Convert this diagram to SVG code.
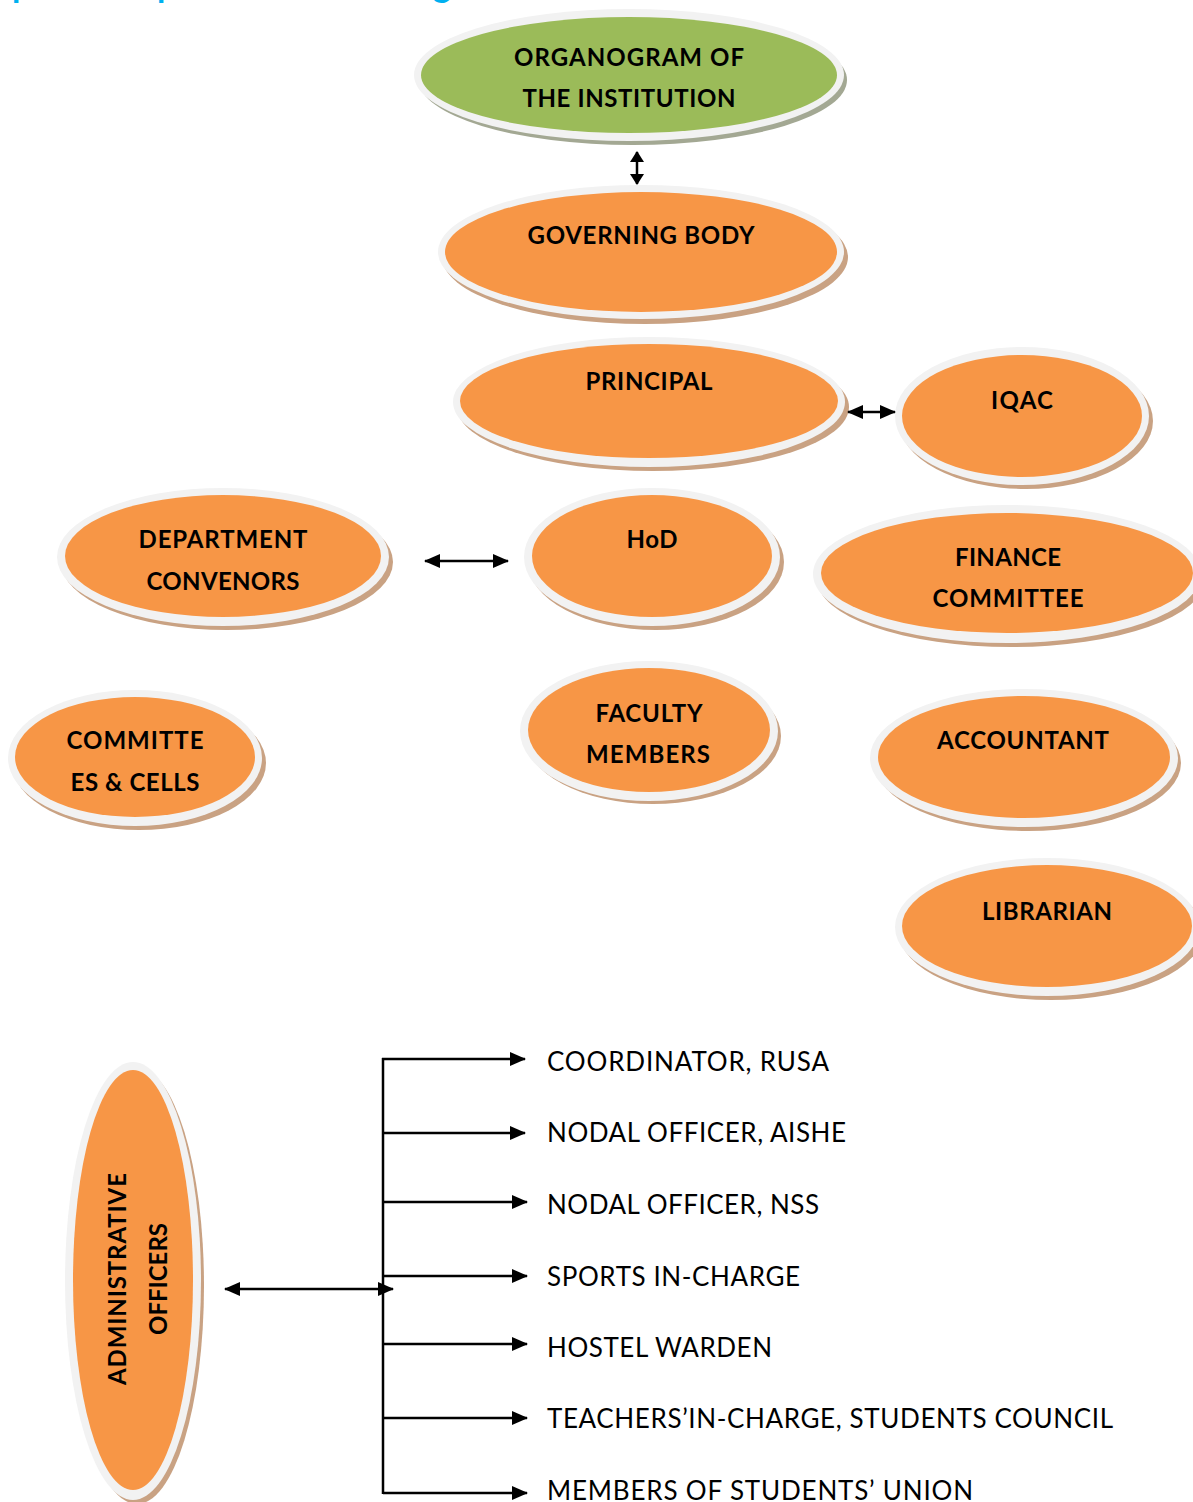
<svg xmlns="http://www.w3.org/2000/svg" width="1193" height="1502" viewBox="0 0 1193 1502">
<style>
.ring{fill:#f2f2f2}
.sh{fill:#c9a283}
.shg{fill:#a3a893}
.or{fill:#f79646}
.gr{fill:#9bbb59}
.b{font-family:Lato,"Open Sans",sans-serif;font-weight:bold;font-size:24px;fill:#000;text-anchor:middle}
.r{font-family:Lato,"Open Sans",sans-serif;font-size:26px;fill:#000}
.ln{stroke:#000;stroke-width:2.5;fill:none}
</style>
<defs>
<marker id="ah" markerUnits="userSpaceOnUse" markerWidth="16" markerHeight="14" refX="15" refY="7" orient="auto-start-reverse" viewBox="0 0 16 14">
<path d="M0,0 L16,7 L0,14 Z" fill="#000"/>
</marker>
<marker id="ahs" markerUnits="userSpaceOnUse" markerWidth="11" markerHeight="14" refX="10" refY="7" orient="auto-start-reverse" viewBox="0 0 11 14">
<path d="M0,0 L11,7 L0,14 Z" fill="#000"/>
</marker>
</defs>
<rect width="1193" height="1502" fill="#fff"/>
<text x="0" y="-3" font-family="Lato,sans-serif" font-weight="bold" font-size="34" fill="#00b0f0"><tspan x="12">p</tspan><tspan x="157">p</tspan><tspan x="433">g</tspan></text>

<g id="organogram">
<ellipse class="shg" cx="633" cy="80" rx="214" ry="65"/>
<ellipse class="ring" cx="629" cy="75" rx="215" ry="66"/>
<ellipse class="gr" cx="629" cy="75" rx="208" ry="58"/>
<text class="b" x="629" y="66" textLength="230">ORGANOGRAM OF</text>
<text class="b" x="629" y="107" textLength="213">THE INSTITUTION</text>
</g>
<g id="governing-body">
<ellipse class="sh" cx="645" cy="257" rx="203" ry="67"/>
<ellipse class="ring" cx="641" cy="252" rx="203" ry="67"/>
<ellipse class="or" cx="641" cy="252" rx="196" ry="60"/>
<text class="b" x="641" y="244" textLength="227">GOVERNING BODY</text>
</g>
<g id="principal">
<ellipse class="sh" cx="653" cy="407" rx="196" ry="64"/>
<ellipse class="ring" cx="649" cy="402" rx="196" ry="65"/>
<ellipse class="or" cx="649" cy="401" rx="189" ry="57"/>
<text class="b" x="649" y="390" textLength="127">PRINCIPAL</text>
</g>
<g id="iqac">
<ellipse class="sh" cx="1026" cy="421" rx="127" ry="68"/>
<ellipse class="ring" cx="1022" cy="416" rx="127" ry="69"/>
<ellipse class="or" cx="1022" cy="416" rx="120" ry="61"/>
<text class="b" x="1022" y="409" textLength="62">IQAC</text>
</g>
<g id="department-convenors">
<ellipse class="sh" cx="227" cy="562" rx="166" ry="68"/>
<ellipse class="ring" cx="223" cy="557" rx="166" ry="69"/>
<ellipse class="or" cx="223" cy="556" rx="158" ry="61"/>
<text class="b" x="223" y="548" textLength="169">DEPARTMENT</text>
<text class="b" x="223" y="590" textLength="153">CONVENORS</text>
</g>
<g id="hod">
<ellipse class="sh" cx="656" cy="562" rx="128" ry="68"/>
<ellipse class="ring" cx="652" cy="557" rx="128" ry="69"/>
<ellipse class="or" cx="652" cy="556" rx="120" ry="61"/>
<text class="b" x="652" y="548" textLength="51">HoD</text>
</g>
<g id="finance-committee">
<ellipse class="sh" cx="1011" cy="579" rx="194" ry="68"/>
<ellipse class="ring" cx="1007" cy="574" rx="194" ry="69"/>
<ellipse class="or" cx="1007" cy="573" rx="186" ry="60"/>
<text class="b" x="1008" y="566" textLength="106">FINANCE</text>
<text class="b" x="1008" y="607" textLength="151">COMMITTEE</text>
</g>
<g id="committees-cells">
<ellipse class="sh" cx="139" cy="763" rx="127" ry="67"/>
<ellipse class="ring" cx="135" cy="758" rx="127" ry="68"/>
<ellipse class="or" cx="135" cy="757" rx="120" ry="60"/>
<text class="b" x="135" y="749" textLength="137">COMMITTE</text>
<text class="b" x="135" y="791" textLength="129">ES &amp; CELLS</text>
</g>
<g id="faculty-members">
<ellipse class="sh" cx="653" cy="736" rx="128" ry="68"/>
<ellipse class="ring" cx="649" cy="731" rx="129" ry="70"/>
<ellipse class="or" cx="649" cy="730" rx="121" ry="62"/>
<text class="b" x="649" y="722" textLength="107">FACULTY</text>
<text class="b" x="648" y="763" textLength="124">MEMBERS</text>
</g>
<g id="accountant">
<ellipse class="sh" cx="1028" cy="763" rx="153" ry="68"/>
<ellipse class="ring" cx="1024" cy="758" rx="154" ry="69"/>
<ellipse class="or" cx="1024" cy="757" rx="146" ry="61"/>
<text class="b" x="1023" y="749" textLength="172">ACCOUNTANT</text>
</g>
<g id="librarian">
<ellipse class="sh" cx="1051" cy="932" rx="152" ry="68"/>
<ellipse class="ring" cx="1047" cy="927" rx="152" ry="69"/>
<ellipse class="or" cx="1047" cy="926" rx="145" ry="61"/>
<text class="b" x="1047" y="920" textLength="130">LIBRARIAN</text>
</g>
<g id="administrative-officers">
<ellipse class="sh" cx="137" cy="1286" rx="67" ry="218"/>
<ellipse class="ring" cx="133" cy="1281" rx="68" ry="219"/>
<ellipse class="or" cx="133" cy="1280" rx="60" ry="210"/>
<text class="b" transform="translate(126,1279) rotate(-90)" x="0" y="0" textLength="212">ADMINISTRATIVE</text>
<text class="b" transform="translate(167,1279) rotate(-90)" x="0" y="0" textLength="112">OFFICERS</text>
</g>

<g id="connectors">
<line class="ln" x1="637" y1="152" x2="637" y2="184" marker-start="url(#ahs)" marker-end="url(#ahs)"/>
<line class="ln" x1="848" y1="412" x2="895" y2="412" marker-start="url(#ah)" marker-end="url(#ah)"/>
<line class="ln" x1="425" y1="561" x2="508" y2="561" marker-start="url(#ah)" marker-end="url(#ah)"/>
<line class="ln" x1="225" y1="1289" x2="393" y2="1289" marker-start="url(#ah)" marker-end="url(#ah)"/>
<line class="ln" x1="383" y1="1058" x2="383" y2="1494"/>
<line class="ln" x1="382" y1="1059" x2="525" y2="1059" marker-end="url(#ah)"/>
<line class="ln" x1="383" y1="1133" x2="525" y2="1133" marker-end="url(#ah)"/>
<line class="ln" x1="383" y1="1202" x2="527" y2="1202" marker-end="url(#ah)"/>
<line class="ln" x1="383" y1="1276" x2="527" y2="1276" marker-end="url(#ah)"/>
<line class="ln" x1="383" y1="1344" x2="527" y2="1344" marker-end="url(#ah)"/>
<line class="ln" x1="383" y1="1418" x2="527" y2="1418" marker-end="url(#ah)"/>
<line class="ln" x1="383" y1="1493" x2="527" y2="1493" marker-end="url(#ah)"/>
</g>

<g id="labels">
<text class="r" x="547" y="1071" textLength="282">COORDINATOR, RUSA</text>
<text class="r" x="547" y="1142" textLength="299">NODAL OFFICER, AISHE</text>
<text class="r" x="547" y="1214" textLength="272">NODAL OFFICER, NSS</text>
<text class="r" x="547" y="1286" textLength="253">SPORTS IN-CHARGE</text>
<text class="r" x="547" y="1357" textLength="225">HOSTEL WARDEN</text>
<text class="r" x="547" y="1428" textLength="566">TEACHERS’IN-CHARGE, STUDENTS COUNCIL</text>
<text class="r" x="547" y="1500" textLength="426">MEMBERS OF STUDENTS’ UNION</text>
</g>
</svg>
